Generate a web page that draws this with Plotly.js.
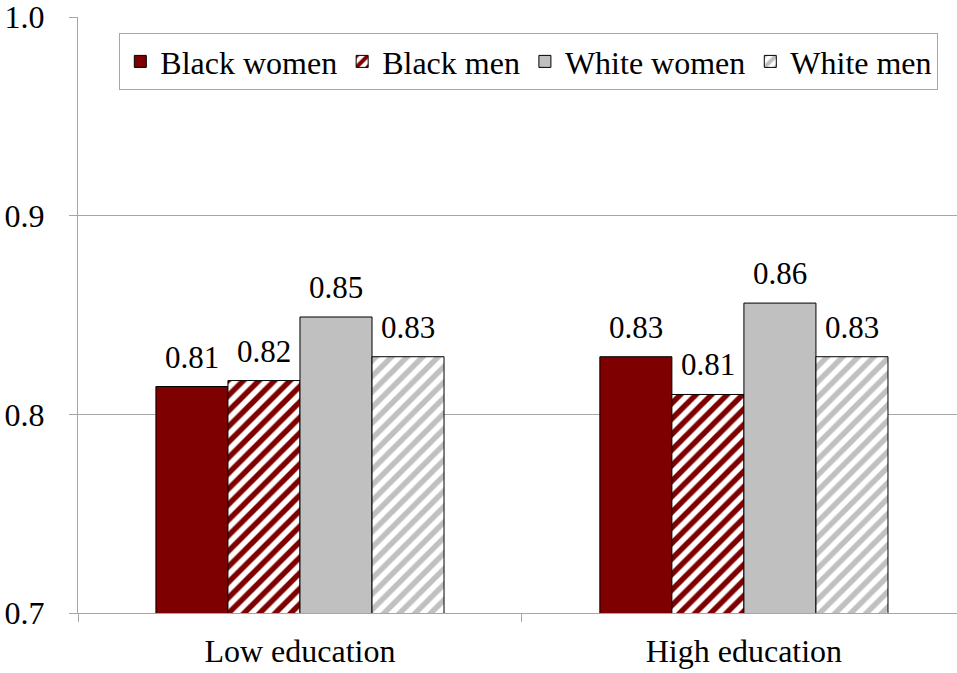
<!DOCTYPE html>
<html>
<head>
<meta charset="utf-8">
<script src="https://cdn.plot.ly/plotly-3.0.1.min.js"></script>
<style>
  html, body { margin: 0; padding: 0; background: #fff; }
  #chart { width: 957px; height: 673px; }
</style>
</head>
<body>
<div id="chart"></div>
<script>
// Education groups on the category axis
const groups = ['Low education', 'High education'];

// Series names and their mean values per group
const seriesNames = ['Black women', 'Black men', 'White women', 'White men'];
const blackWomen = [0.814, 0.829];
const blackMen   = [0.817, 0.810];
const whiteWomen = [0.849, 0.856];
const whiteMen   = [0.829, 0.829];

const yTicks = [0.7, 0.8, 0.9, 1.0];

const font = 'Liberation Serif';
const darkRed = '#7f0000';
const lightGrey = '#c0c0c0';
const barGap = 0.351;

function series(name, values, color, striped) {
  const marker = {
    color: striped ? '#ffffff' : color,
    line: { color: '#000000', width: 1 }
  };
  if (striped) {
    marker.pattern = {
      shape: '/',
      fgcolor: color,
      fgopacity: 1,
      bgcolor: '#ffffff',
      fillmode: 'overlay',
      size: 11,
      solidity: 0.5
    };
  }
  return {
    type: 'bar',
    name: name,
    x: groups,
    y: values,
    marker: marker,
    hoverinfo: 'skip'
  };
}

const allValues = [blackWomen, blackMen, whiteWomen, whiteMen];
const data = [
  series(seriesNames[0], blackWomen, darkRed, false),
  series(seriesNames[1], blackMen, darkRed, true),
  series(seriesNames[2], whiteWomen, lightGrey, false),
  series(seriesNames[3], whiteMen, lightGrey, true)
];

// Value labels above each bar, placed at the bar's slot within its group
const barWidth = (1 - barGap) / allValues.length;
const annotations = [];
allValues.forEach((vals, s) => {
  vals.forEach((v, g) => {
    annotations.push({
      x: g + (s - (allValues.length - 1) / 2) * barWidth,
      y: v,
      xref: 'x', yref: 'y',
      text: v.toFixed(2),
      showarrow: false,
      xanchor: 'center',
      yanchor: 'bottom',
      yshift: 10,
      font: { family: font, size: 31, color: '#000' }
    });
  });
});

const layout = {
  width: 957,
  height: 673,
  margin: { l: 78, r: 0, t: 17, b: 60 },
  paper_bgcolor: '#ffffff',
  plot_bgcolor: '#ffffff',
  font: { family: font, size: 32, color: '#000' },
  barmode: 'group',
  bargap: barGap,
  bargroupgap: 0,
  showlegend: true,
  annotations: annotations,
  legend: {
    orientation: 'h',
    x: 0.047, xanchor: 'left',
    y: 0.973, yanchor: 'top',
    bgcolor: '#ffffff',
    bordercolor: '#a6a6a6',
    borderwidth: 1,
    itemwidth: 30,
    font: { family: font, size: 32, color: '#000' },
    traceorder: 'normal'
  },
  xaxis: {
    type: 'category',
    range: [-0.5, 1.48],
    tickson: 'boundaries',
    ticks: 'outside',
    ticklen: 8,
    tickcolor: '#a6a6a6',
    showline: true,
    linecolor: '#a6a6a6',
    linewidth: 1,
    showgrid: false,
    zeroline: false,
    ticklabelstandoff: 10,
    tickfont: { family: font, size: 32, color: '#000' }
  },
  yaxis: {
    range: [0.7, 1.0],
    tickvals: yTicks,
    tickformat: '.1f',
    ticks: 'outside',
    ticklen: 8,
    tickcolor: '#a6a6a6',
    showline: true,
    linecolor: '#a6a6a6',
    linewidth: 1,
    showgrid: true,
    gridcolor: '#a6a6a6',
    gridwidth: 1,
    zeroline: false,
    ticklabelstandoff: 18,
    ticklabeloverflow: 'allow',
    tickfont: { family: font, size: 32, color: '#000' }
  }
};

Plotly.newPlot('chart', data, layout, { displayModeBar: false, staticPlot: true });
</script>
</body>
</html>
